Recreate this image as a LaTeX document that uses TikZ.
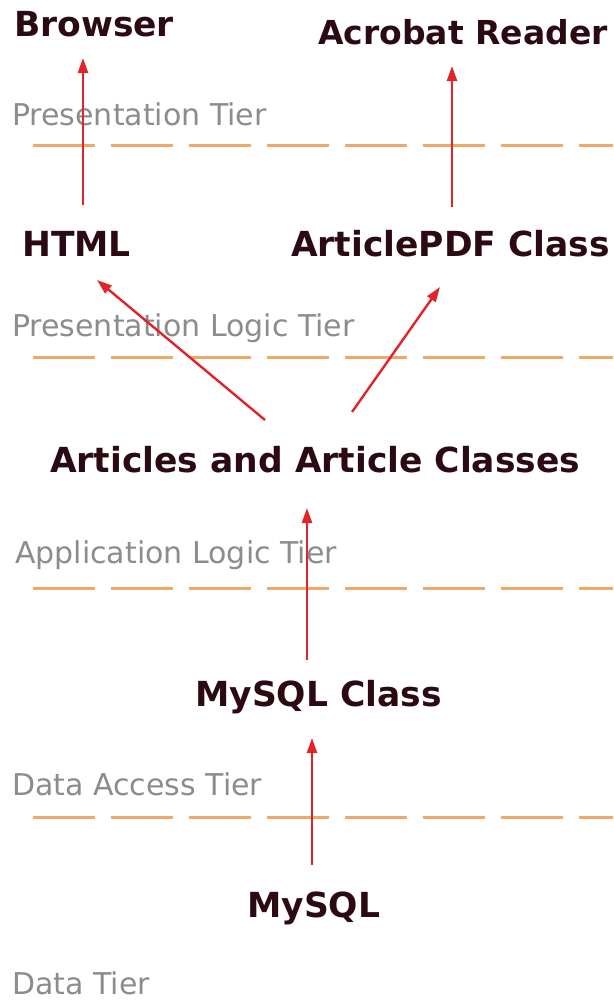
\documentclass[tikz,border=0pt]{standalone}
\usepackage{fontspec}
\setmainfont{DejaVu Sans}
\usetikzlibrary{arrows.meta}
\definecolor{lbl}{HTML}{2B0A12}
\definecolor{tiergray}{HTML}{8C8C8C}
\definecolor{dashorange}{HTML}{F0A868}
\definecolor{arrred}{HTML}{E0252A}
\begin{document}
\begin{tikzpicture}[x=1pt,y=-1pt,
 comp/.style={font=\bfseries\fontsize{34.5}{36}\selectfont, text=lbl, inner sep=0pt, anchor=base west},
 tierlbl/.style={font=\fontsize{30}{32}\selectfont, text=tiergray, inner sep=0pt, anchor=base west},
 tierline/.style={draw=dashorange, line width=3pt, dash pattern=on 62pt off 16pt},
 flow/.style={draw=arrred, line width=2.4pt, -{Triangle[length=15pt,width=10pt]}}]
\useasboundingbox[fill=white] (0,0) rectangle (613,1001);
% components
\node[comp] (browser) at (14,36) {Browser};
\node[comp, font=\bfseries\fontsize{33}{35}\selectfont] (acrobat) at (318,44) {Acrobat Reader};
\node[comp] (html) at (22,256) {HTML};
\node[comp] (pdf) at (291,256) {ArticlePDF Class};
\node[comp] (articles) at (50,472) {Articles and Article Classes};
\node[comp] (mysqlclass) at (195,706) {MySQL Class};
\node[comp] (mysql) at (247,917) {MySQL};
% tiers
\node[tierlbl] (t1) at (12,125) {Presentation Tier};
\node[tierlbl] (t2) at (12,336) {Presentation Logic Tier};
\node[tierlbl] (t3) at (15,563) {Application Logic Tier};
\node[tierlbl] (t4) at (12,795) {Data Access Tier};
\node[tierlbl] (t5) at (12,994) {Data Tier};
% tier separators
\draw[tierline] (33,145) -- (613,145);
\draw[tierline] (33,357) -- (613,357);
\draw[tierline] (33,588) -- (613,588);
\draw[tierline] (33,817) -- (613,817);
% connectors
\draw[flow] ([xshift=61pt,yshift=51pt]html.base west) -- ([xshift=69pt,yshift=-22pt]browser.base west);
\draw[flow] ([xshift=161pt,yshift=49pt]pdf.base west) -- ([xshift=134pt,yshift=-22pt]acrobat.base west);
\draw[flow] ([xshift=215pt,yshift=52pt]articles.base west) -- ([xshift=75pt,yshift=-24pt]html.base west);
\draw[flow] ([xshift=302pt,yshift=60pt]articles.base west) -- ([xshift=149pt,yshift=-31pt]pdf.base west);
\draw[flow] ([xshift=112pt,yshift=46pt]mysqlclass.base west) -- ([xshift=257pt,yshift=-36pt]articles.base west);
\draw[flow] ([xshift=65pt,yshift=52pt]mysql.base west) -- ([xshift=117pt,yshift=-32pt]mysqlclass.base west);
\end{tikzpicture}
\end{document}
